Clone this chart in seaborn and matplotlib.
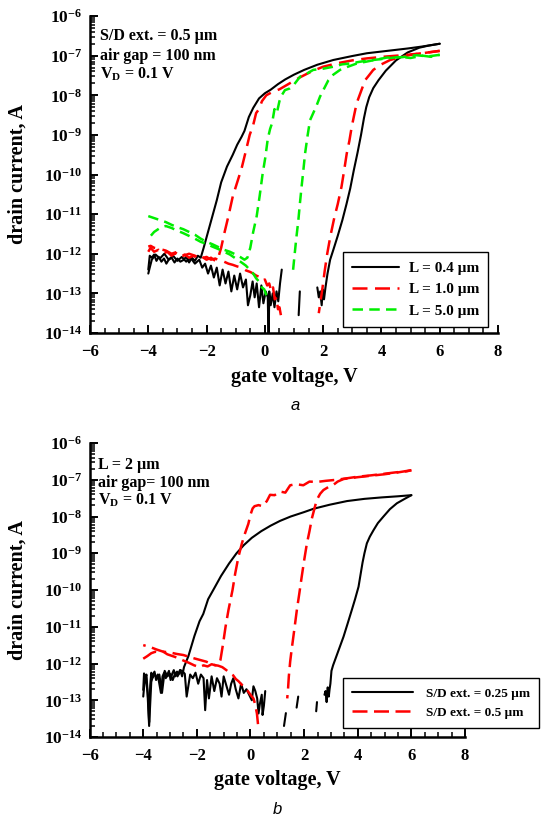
import numpy as np
import pandas as pd
import matplotlib
matplotlib.use("Agg")
import matplotlib.pyplot as plt
from matplotlib.lines import Line2D
from matplotlib.ticker import MultipleLocator, LogLocator, FuncFormatter, NullFormatter
import seaborn as sns

# Transfer curves: (gate voltage in V, log10 of drain current in A).
# Each sweep goes -4 V -> 6 V (forward) and back (reverse); gaps are where
# the measured current dropped to zero or below.

# ---- panel a: S/D ext. = 0.5 um, three gate lengths ----
a_L04_fwd = [(-4.00, -12.40), (-3.95, -12.05), (-3.88, -12.10), (-3.80, -12.02), (-3.72, -12.18),
             (-3.64, -12.08), (-3.55, -12.20), (-3.46, -12.12), (-3.38, -12.25), (-3.30, -12.15),
             (-3.20, -12.10), (-3.10, -12.22), (-3.00, -12.12), (-2.90, -12.20), (-2.80, -12.16),
             (-2.70, -12.08), (-2.60, -12.22), (-2.50, -12.10), (-2.40, -12.18), (-2.30, -12.05),
             (-2.20, -12.10), (-2.10, -11.85), (-1.95, -11.45), (-1.80, -11.05), (-1.65, -10.65),
             (-1.50, -10.20), (-1.30, -9.80), (-1.10, -9.50), (-0.95, -9.25), (-0.80, -9.05),
             (-0.70, -8.90), (-0.55, -8.55), (-0.40, -8.32), (-0.20, -8.08), (0.00, -7.95),
             (0.20, -7.86), (0.45, -7.72), (0.70, -7.60), (1.00, -7.48), (1.35, -7.36),
             (1.80, -7.23), (2.35, -7.11), (3.00, -7.01), (3.50, -6.94), (4.20, -6.88),
             (4.90, -6.82), (5.40, -6.77), (6.00, -6.70)]
a_L04_rev = [(6.00, -6.70), (5.60, -6.75), (5.30, -6.80), (4.90, -6.92), (4.50, -7.12),
             (4.15, -7.38), (3.90, -7.62), (3.72, -7.82), (3.58, -8.05), (3.48, -8.30),
             (3.40, -8.58), (3.30, -9.00), (3.18, -9.45), (3.05, -9.90), (2.93, -10.35),
             (2.80, -10.75), (2.66, -11.15), (2.50, -11.55), (2.35, -11.90), (2.24, -12.15),
             (2.15, -12.50), (2.08, -12.85), (2.03, -13.15), (1.99, -12.90), (1.95, -13.30),
             (1.90, -12.95), (1.85, -13.10), (1.80, -12.85)]
a_L04_rev_mid = [(1.20, -12.95), (1.18, -13.25), (1.16, -13.55)]
a_L04_rev_low = [(0.58, -12.40), (0.52, -12.75), (0.46, -13.20), (0.40, -12.95), (0.33, -13.35),
                 (0.27, -13.00), (0.20, -13.30), (0.15, -12.95), (0.13, -14.30), (0.10, -13.10),
                 (0.03, -12.95), (-0.05, -13.25), (-0.12, -12.80), (-0.20, -13.35), (-0.28, -12.75),
                 (-0.35, -13.10), (-0.42, -12.70), (-0.50, -13.05), (-0.58, -13.30), (-0.65, -12.65),
                 (-0.75, -12.85), (-0.85, -12.50), (-0.95, -12.90), (-1.05, -12.55), (-1.15, -12.95),
                 (-1.25, -12.45), (-1.35, -12.75), (-1.45, -12.40), (-1.55, -12.80), (-1.65, -12.35),
                 (-1.75, -12.60), (-1.85, -12.30), (-1.95, -12.50), (-2.05, -12.25), (-2.15, -12.35),
                 (-2.25, -12.15), (-2.40, -12.25), (-2.55, -12.10), (-2.70, -12.20), (-2.85, -12.08),
                 (-3.00, -12.18), (-3.15, -12.05), (-3.30, -12.15), (-3.45, -12.00), (-3.60, -12.12),
                 (-3.75, -12.02), (-3.88, -12.15), (-3.95, -12.35), (-4.00, -12.50)]

a_L10_fwd = [(-4.00, -11.95), (-3.92, -11.85), (-3.80, -11.95), (-3.65, -11.90), (-3.50, -12.00),
             (-3.35, -11.95), (-3.20, -12.05), (-3.05, -11.98), (-2.90, -12.08), (-2.75, -12.02),
             (-2.60, -12.10), (-2.45, -12.05), (-2.30, -12.12), (-2.15, -12.08), (-2.00, -12.15),
             (-1.85, -12.10), (-1.70, -12.18), (-1.60, -12.10), (-1.50, -11.85), (-1.38, -11.45),
             (-1.25, -11.05), (-1.10, -10.55), (-0.95, -10.20), (-0.80, -9.85), (-0.65, -9.40),
             (-0.52, -9.00), (-0.40, -8.75), (-0.30, -8.45), (-0.20, -8.35), (-0.10, -8.15),
             (0.05, -8.00), (0.25, -7.92), (0.50, -7.85), (0.85, -7.70), (1.20, -7.55),
             (1.60, -7.40), (2.00, -7.28), (2.50, -7.19), (3.00, -7.12), (3.50, -7.07),
             (4.20, -7.02), (4.90, -6.98), (5.50, -6.93), (6.00, -6.88)]
a_L10_rev = [(6.00, -6.88), (5.50, -6.93), (5.00, -6.98), (4.60, -7.05), (4.30, -7.11),
             (4.00, -7.22), (3.72, -7.36), (3.55, -7.52), (3.44, -7.62), (3.30, -7.90),
             (3.15, -8.20), (3.05, -8.55), (2.98, -8.80), (2.90, -9.15), (2.81, -9.47),
             (2.72, -9.90), (2.63, -10.31), (2.50, -10.75), (2.38, -11.10), (2.25, -11.55),
             (2.14, -12.00), (2.05, -12.45), (1.98, -12.85), (1.93, -13.10), (1.88, -13.35),
             (1.85, -13.50)]
a_L10_rev_low = [(0.55, -13.55), (0.50, -13.35), (0.45, -13.40), (0.40, -13.10), (0.34, -13.15),
                 (0.28, -12.85), (0.22, -12.95), (0.15, -12.75), (0.08, -12.80), (0.00, -12.65),
                 (-0.10, -12.68), (-0.20, -12.58), (-0.30, -12.55), (-0.40, -12.50), (-0.50, -12.46),
                 (-0.65, -12.42), (-0.80, -12.35), (-0.95, -12.32), (-1.10, -12.28), (-1.25, -12.25),
                 (-1.40, -12.20), (-1.55, -12.18), (-1.70, -12.12), (-1.85, -12.15), (-2.00, -12.08),
                 (-2.20, -12.12), (-2.40, -12.05), (-2.60, -12.00), (-2.80, -12.05), (-3.00, -11.95),
                 (-3.20, -12.00), (-3.40, -11.92), (-3.60, -11.88), (-3.80, -11.85), (-3.92, -11.80),
                 (-4.00, -11.82)]

a_L50_fwd = [(-4.00, -11.05), (-3.80, -11.10), (-3.60, -11.15), (-3.40, -11.20), (-3.20, -11.27),
             (-3.00, -11.33), (-2.80, -11.38), (-2.60, -11.45), (-2.40, -11.52), (-2.20, -11.62),
             (-2.00, -11.70), (-1.80, -11.76), (-1.60, -11.83), (-1.40, -11.90), (-1.20, -11.95),
             (-1.00, -12.02), (-0.85, -12.08), (-0.70, -12.15), (-0.60, -12.10), (-0.50, -11.85),
             (-0.40, -11.45), (-0.28, -11.05), (-0.18, -10.55), (-0.08, -10.00), (0.02, -9.55),
             (0.10, -9.10), (0.18, -8.85), (0.25, -8.70), (0.33, -8.35), (0.41, -8.45),
             (0.50, -8.15), (0.58, -8.00), (0.69, -7.87), (0.85, -7.83), (0.98, -7.75),
             (1.21, -7.53), (1.45, -7.45), (1.66, -7.36), (2.00, -7.33), (2.35, -7.28),
             (2.65, -7.22), (2.92, -7.20), (3.30, -7.15), (3.72, -7.11), (4.20, -7.07),
             (4.64, -7.03), (5.00, -7.06), (5.40, -7.00), (5.70, -7.03), (6.00, -6.98)]
a_L50_rev = [(6.00, -6.98), (5.60, -7.02), (5.20, -6.99), (4.70, -7.04), (4.18, -7.05),
             (3.70, -7.12), (3.15, -7.20), (2.85, -7.28), (2.58, -7.36), (2.35, -7.48),
             (2.18, -7.62), (2.02, -7.85), (1.89, -8.04), (1.78, -8.25), (1.66, -8.45),
             (1.55, -8.63), (1.47, -9.00), (1.38, -9.47), (1.32, -9.90), (1.26, -10.31),
             (1.20, -10.75), (1.15, -11.15), (1.08, -11.60), (1.01, -12.10), (0.95, -12.55)]
a_L50_rev_low = [(0.05, -13.05), (-0.02, -12.90), (-0.10, -12.85), (-0.20, -12.70), (-0.30, -12.62),
                 (-0.40, -12.50), (-0.50, -12.42), (-0.65, -12.30), (-0.80, -12.22), (-1.00, -12.12),
                 (-1.20, -12.02), (-1.40, -11.95), (-1.60, -11.88), (-1.80, -11.82), (-2.00, -11.75),
                 (-2.20, -11.70), (-2.40, -11.62), (-2.60, -11.55), (-2.80, -11.48), (-3.00, -11.42),
                 (-3.20, -11.35), (-3.40, -11.30), (-3.60, -11.35), (-3.80, -11.45), (-4.00, -11.62)]

# ---- panel b: L = 2 um, two S/D extensions ----
b_S025_fwd = [(-4.00, -12.72), (-3.97, -12.27), (-3.92, -12.40), (-3.88, -12.30), (-3.82, -12.95),
              (-3.78, -13.60), (-3.74, -12.60), (-3.70, -12.25), (-3.64, -12.38), (-3.58, -12.22),
              (-3.52, -12.45), (-3.46, -12.30), (-3.40, -12.55), (-3.34, -12.80), (-3.28, -12.35),
              (-3.22, -12.25), (-3.16, -12.40), (-3.10, -12.30), (-3.04, -12.20), (-2.98, -12.45),
              (-2.92, -12.28), (-2.86, -12.18), (-2.80, -12.35), (-2.74, -12.22), (-2.68, -12.30),
              (-2.62, -12.18), (-2.55, -12.35), (-2.48, -12.10), (-2.40, -11.95), (-2.32, -11.81),
              (-2.09, -11.25), (-1.90, -10.85), (-1.76, -10.65), (-1.58, -10.25), (-1.35, -9.95),
              (-1.10, -9.62), (-0.80, -9.28), (-0.52, -9.00), (-0.25, -8.78), (0.05, -8.58),
              (0.40, -8.40), (0.75, -8.25), (1.10, -8.12), (1.50, -8.00), (2.00, -7.88),
              (2.35, -7.79), (2.95, -7.68), (3.60, -7.58), (4.25, -7.52), (4.90, -7.48),
              (5.50, -7.45), (6.00, -7.42)]
b_S025_rev = [(6.00, -7.42), (5.75, -7.52), (5.46, -7.64), (5.20, -7.80), (4.96, -8.00),
              (4.75, -8.18), (4.59, -8.37), (4.45, -8.55), (4.34, -8.73), (4.25, -9.00),
              (4.18, -9.25), (4.10, -9.60), (4.03, -9.91), (3.90, -10.25), (3.78, -10.54),
              (3.62, -10.92), (3.47, -11.27), (3.33, -11.55), (3.20, -11.81), (3.08, -12.05),
              (3.02, -12.20), (2.98, -12.55), (2.95, -12.70), (2.92, -12.90), (2.88, -12.65),
              (2.84, -13.05), (2.80, -12.75), (2.76, -12.85)]
b_S025_rev_bit1 = [(2.48, -13.05), (2.45, -13.30)]
b_S025_rev_bit2 = [(1.78, -12.90), (1.72, -13.20)]
b_S025_rev_bit3 = [(1.32, -13.35), (1.25, -13.70)]
b_S025_rev_low = [(0.55, -12.75), (0.50, -13.15), (0.45, -13.40), (0.42, -12.85), (0.35, -13.10),
                  (0.30, -13.36), (0.25, -12.95), (0.18, -12.75), (0.11, -12.62), (0.05, -13.00),
                  (-0.05, -12.85), (-0.15, -12.70), (-0.25, -12.80), (-0.35, -12.55), (-0.45, -12.95),
                  (-0.55, -12.70), (-0.64, -12.40), (-0.72, -12.55), (-0.80, -12.85), (-0.90, -12.60),
                  (-1.00, -12.35), (-1.08, -12.90), (-1.15, -12.55), (-1.25, -12.40), (-1.35, -12.75),
                  (-1.45, -12.35), (-1.55, -12.95), (-1.62, -12.45), (-1.69, -13.27), (-1.75, -12.40),
                  (-1.85, -12.30), (-1.95, -12.55), (-2.05, -12.25), (-2.15, -12.40), (-2.25, -12.30),
                  (-2.38, -12.90), (-2.45, -12.28), (-2.55, -12.20), (-2.63, -12.18), (-2.72, -12.35),
                  (-2.80, -12.25), (-2.90, -12.45), (-3.00, -12.28), (-3.10, -12.35), (-3.20, -12.20),
                  (-3.30, -12.80), (-3.40, -12.30), (-3.50, -12.40), (-3.60, -12.25), (-3.70, -12.50),
                  (-3.78, -13.70), (-3.84, -12.80), (-3.90, -12.35), (-3.95, -12.50), (-4.00, -12.90)]

b_S05_fwd = [(-4.00, -11.87), (-3.85, -11.80), (-3.70, -11.72), (-3.55, -11.68), (-3.40, -11.70),
             (-3.25, -11.68), (-3.10, -11.75), (-2.90, -11.80), (-2.70, -11.85), (-2.50, -11.92),
             (-2.30, -11.98), (-2.10, -12.05), (-1.90, -12.10), (-1.75, -12.05), (-1.60, -12.08),
             (-1.45, -12.02), (-1.30, -12.05), (-1.18, -12.00), (-1.12, -11.90), (-1.02, -11.45),
             (-0.93, -11.00), (-0.82, -10.54), (-0.67, -10.00), (-0.57, -9.55), (-0.45, -9.10),
             (-0.32, -8.73), (-0.20, -8.45), (-0.08, -8.20), (0.00, -7.95), (0.08, -7.78),
             (0.15, -7.72), (0.30, -7.69), (0.45, -7.72), (0.61, -7.58), (0.73, -7.41),
             (0.90, -7.42), (1.10, -7.32), (1.30, -7.35), (1.48, -7.15), (1.70, -7.12),
             (1.97, -7.15), (2.20, -7.05), (2.47, -7.06), (2.80, -7.03), (3.22, -7.00),
             (3.60, -6.96), (3.97, -6.92), (4.50, -6.88), (4.96, -6.84), (5.40, -6.80),
             (5.83, -6.77), (6.00, -6.74)]
b_S05_rev = [(6.00, -6.74), (5.50, -6.80), (5.00, -6.85), (4.50, -6.89), (4.00, -6.93),
             (3.47, -6.98), (3.25, -7.05), (3.09, -7.14), (2.90, -7.20), (2.72, -7.28),
             (2.60, -7.38), (2.47, -7.55), (2.38, -7.80), (2.29, -8.05), (2.20, -8.40),
             (2.10, -8.75), (2.00, -9.20), (1.91, -9.64), (1.82, -10.10), (1.73, -10.54),
             (1.63, -11.10), (1.53, -11.65), (1.48, -11.95), (1.43, -12.35), (1.40, -12.70),
             (1.37, -12.95)]
b_S05_rev_low = [(0.28, -13.65), (0.24, -13.36), (0.17, -13.10), (0.11, -12.95), (0.05, -12.90),
                 (-0.01, -12.84), (-0.10, -12.75), (-0.18, -12.68), (-0.26, -12.63), (-0.36, -12.55),
                 (-0.45, -12.48), (-0.55, -12.42), (-0.65, -12.32), (-0.76, -12.27), (-0.90, -12.18),
                 (-1.05, -12.10), (-1.20, -12.06), (-1.35, -12.04), (-1.50, -12.00), (-1.65, -11.95),
                 (-1.80, -11.92), (-2.00, -11.88), (-2.20, -11.84), (-2.50, -11.77), (-2.75, -11.74),
                 (-3.00, -11.70), (-3.25, -11.68), (-3.50, -11.62), (-3.75, -11.55), (-4.00, -11.50)]

series_a = {
    "L = 0.4 µm": [a_L04_fwd, a_L04_rev, a_L04_rev_mid, a_L04_rev_low],
    "L = 1.0 µm": [a_L10_fwd, a_L10_rev, a_L10_rev_low],
    "L = 5.0 µm": [a_L50_fwd, a_L50_rev, a_L50_rev_low],
}
series_b = {
    "S/D ext. = 0.25 µm": [b_S025_fwd, b_S025_rev, b_S025_rev_bit1, b_S025_rev_bit2,
                           b_S025_rev_bit3, b_S025_rev_low],
    "S/D ext. = 0.5 µm": [b_S05_fwd, b_S05_rev, b_S05_rev_low],
}


def to_frame(series):
    rows = []
    for name, segments in series.items():
        for k, seg in enumerate(segments):
            for v, logi in seg:
                rows.append({"series": name, "seg": k, "V": v, "I": 10.0 ** logi})
    return pd.DataFrame(rows)


df_a = to_frame(series_a)
df_b = to_frame(series_b)

sns.set_style("ticks")
plt.rcParams.update({
    "font.family": ["Liberation Serif", "DejaVu Serif"],
    "font.weight": "bold",
    "axes.labelweight": "bold",
    "mathtext.fontset": "custom",
    "mathtext.rm": "Liberation Serif:bold",
    "mathtext.bf": "Liberation Serif:bold",
    "mathtext.it": "Liberation Serif:bold:italic",
    "text.color": "black",
    "axes.labelcolor": "black",
    "axes.edgecolor": "black",
    "xtick.color": "black",
    "ytick.color": "black",
    "axes.linewidth": 1.8,
})

STYLE_A = {
    "L = 0.4 µm": dict(color="black", lw=1.5, ls="-"),
    "L = 1.0 µm": dict(color="#ff0000", lw=1.8, ls=(0, (6, 3))),
    "L = 5.0 µm": dict(color="#00ee00", lw=1.8, ls=(0, (4.2, 2.5))),
}
STYLE_B = {
    "S/D ext. = 0.25 µm": dict(color="black", lw=1.5, ls="-"),
    "S/D ext. = 0.5 µm": dict(color="#ff0000", lw=1.8, ls=(0, (6, 2.6))),
}

fig = plt.figure(figsize=(5.42, 8.17), dpi=100)
ax_a = fig.add_axes([90 / 542, 1 - 333 / 817, 408 / 542, 317 / 817])
ax_b = fig.add_axes([89.6 / 542, 1 - 737 / 817, 375.4 / 542, 294 / 817])


def decade_label(val, pos):
    return r"$10^{%d}$" % int(round(np.log10(val)))


def style_axes(ax, ylab_x, xlab_y):
    ax.set_yscale("log")
    ax.set_xlim(-6, 8)
    ax.set_ylim(1e-14, 1e-6)
    ax.set_xticks(np.arange(-6, 9, 2))
    ax.xaxis.set_minor_locator(MultipleLocator(0.5))
    ax.yaxis.set_major_locator(LogLocator(base=10, numticks=20))
    ax.yaxis.set_minor_locator(LogLocator(base=10, subs=np.arange(2, 10), numticks=20))
    ax.yaxis.set_minor_formatter(NullFormatter())
    ax.yaxis.set_major_formatter(FuncFormatter(decade_label))
    for side in ("top", "right"):
        ax.spines[side].set_visible(False)
    ax.tick_params(which="major", direction="in", length=6, width=1.4)
    ax.tick_params(which="minor", direction="in", length=3.5, width=1.1)
    ax.tick_params(axis="y", which="major", labelsize=12.5, pad=5.5)
    ax.tick_params(axis="x", which="major", labelsize=12, pad=8)
    ax.set_xlabel("gate voltage, V", fontsize=14.5, fontweight="bold")
    ax.set_ylabel("drain current, A", fontsize=14.5, fontweight="bold")
    ax.yaxis.set_label_coords(ylab_x, 0.5)
    ax.xaxis.set_label_coords(0.5, xlab_y)


def draw(ax, df, styles):
    for name, st in styles.items():
        sub = df[df["series"] == name]
        sns.lineplot(data=sub, x="V", y="I", units="seg", estimator=None, sort=False,
                     color=st["color"], linewidth=st["lw"], linestyle=st["ls"],
                     legend=False, ax=ax)
    handles = [Line2D([], [], color=st["color"], lw=st["lw"], linestyle=st["ls"])
               for st in styles.values()]
    return handles, list(styles.keys())


for ax in (ax_a, ax_b):
    ax.set_yscale("log")

h_a, l_a = draw(ax_a, df_a, STYLE_A)
h_b, l_b = draw(ax_b, df_b, STYLE_B)
style_axes(ax_a, (28 - 90) / 408, (333 - 367) / 317)
style_axes(ax_b, (28 - 89.6) / 375.4, (737 - 770) / 294)

leg_a = ax_a.legend(h_a, l_a, loc="lower left", bbox_to_anchor=(0.62, 0.019),
                    frameon=True, fancybox=False, edgecolor="black", framealpha=1,
                    prop={"family": "Liberation Serif", "weight": "bold", "size": 11},
                    handlelength=3.1, handletextpad=0.6, labelspacing=0.5,
                    borderpad=0.6, borderaxespad=0)
leg_a.get_frame().set_linewidth(1.0)

leg_b = ax_b.legend(h_b, l_b, loc="lower left", bbox_to_anchor=(0.675, 0.031),
                    frameon=True, fancybox=False, edgecolor="black", framealpha=1,
                    prop={"family": "Liberation Serif", "weight": "bold", "size": 9.5},
                    handlelength=4.6, handletextpad=1.0, labelspacing=0.5,
                    borderpad=0.7, borderaxespad=0)
leg_b.get_frame().set_linewidth(1.0)

note_kw = dict(fontsize=11.5, fontweight="bold", va="baseline", ha="left")
ax_a.text(0.025, (333 - 40) / 317, "S/D ext. = 0.5 µm", transform=ax_a.transAxes, **note_kw)
ax_a.text(0.025, (333 - 60) / 317, "air gap = 100 nm", transform=ax_a.transAxes, **note_kw)
ax_a.text(0.025, (333 - 79) / 317, r"V$_{\mathrm{D}}$ = 0.1 V", transform=ax_a.transAxes, **note_kw)

ax_b.text(0.022, (737 - 469) / 294, "L = 2 µm", transform=ax_b.transAxes, **note_kw)
ax_b.text(0.022, (737 - 487) / 294, "air gap= 100 nm", transform=ax_b.transAxes, **note_kw)
ax_b.text(0.022, (737 - 505) / 294, r"V$_{\mathrm{D}}$ = 0.1 V", transform=ax_b.transAxes, **note_kw)

fig.text(295 / 542, 1 - 405 / 817, "a", ha="center", va="center", fontsize=12,
         fontstyle="italic", fontweight="normal", family=["Liberation Sans", "DejaVu Sans"])
fig.text(277 / 542, 1 - 809 / 817, "b", ha="center", va="center", fontsize=12,
         fontstyle="italic", fontweight="normal", family=["Liberation Sans", "DejaVu Sans"])

fig.savefig("out.png", dpi=100)
